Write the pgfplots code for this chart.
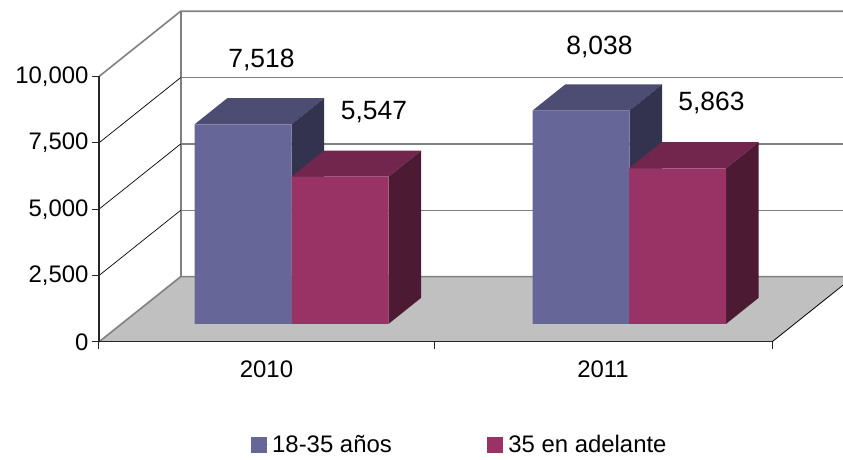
\documentclass[border=0pt]{standalone}
\usepackage{pgfplots}
\pgfplotsset{compat=1.18}
\usepackage{pgfplotstable}
\usepackage{fontspec}
\setmainfont{Liberation Sans}
\definecolor{bluefront}{HTML}{666699}
\definecolor{bluetop}{HTML}{4D4D73}
\definecolor{blueside}{HTML}{333350}
\definecolor{redfront}{HTML}{993366}
\definecolor{redtop}{HTML}{73264D}
\definecolor{redside}{HTML}{4D1A33}
\definecolor{floorgray}{HTML}{C0C0C0}
\definecolor{wallgray}{HTML}{808080}
\newcommand\chartfont{\fontsize{24}{28}\selectfont}
\newcommand\valfont{\fontsize{26.5}{30}\selectfont}
% x = horizontal position of the bar centre, v = value
\pgfplotstableread{
x v
243 7518
581 8038
}\young
\pgfplotstableread{
x v
340 5547
677.5 5863
}\older
\newcommand\barfaces[4]{%
  \pgfplotstablegetelem{#2}{x}\of#1\pgfmathsetmacro\bx{\pgfplotsretval}%
  \pgfplotstablegetelem{#2}{v}\of#1\pgfmathsetmacro\bv{\pgfplotsretval}%
  \pgfmathsetmacro\bxl{\bx-48.5}%
  \pgfmathsetmacro\bxr{\bx+48.5}%
  \pgfmathsetmacro\bxlb{\bxl+32.7}%
  \pgfmathsetmacro\bxrb{\bxr+32.7}%
  \pgfmathsetmacro\bvb{\bv+984}%
  \addplot[fill=#3,draw=none,forget plot] coordinates {(\bxl,\bv) (\bxr,\bv) (\bxrb,\bvb) (\bxlb,\bvb)} -- cycle;
  \addplot[fill=#4,draw=none,forget plot] coordinates {(\bxr,0) (\bxrb,984) (\bxrb,\bvb) (\bxr,\bv)} -- cycle;
}
\pgfplotsset{sqlegend/.style={legend image code/.code={\fill[##1] (0bp,-7.8bp) rectangle (15.7bp,7.8bp); \path (0bp,0bp) -- (19bp,0bp);}}}
\begin{document}
\begin{tikzpicture}
\begin{axis}[
  x=1bp, y=0.02655bp,
  xmin=99, xmax=772, ymin=-678, ymax=9322,
  axis on top,
  clip=false,
  axis x line*=bottom, axis y line*=left,
  axis line style={black!85, line width=1.2bp},
  tick align=outside,
  major tick length=7bp,
  tick style={black!85, line width=1bp},
  ytick={-678,1822,4322,6822,9322},
  yticklabels={0,{2,500},{5,000},{7,500},{10,000}},
  xtick={99,434,772}, xticklabels={},
  extra x ticks={266.5,603}, extra x tick labels={2010,2011},
  extra x tick style={major tick length=0bp, tick style={draw=none},
    xticklabel style={yshift=-15bp}},
  tick label style={font=\chartfont},
  /pgf/number format/.cd, 1000 sep={,}, assume math mode=true, /pgfplots/.cd,
  legend style={draw=none, fill=none, at={(axis cs:251,-4560)}, anchor=west,
    legend columns=2, font=\chartfont, inner sep=0pt, nodes={inner ysep=0pt},
    /tikz/every even column/.append style={column sep=93.5bp}},
  legend cell align=left,
]
% floor
\addplot[fill=floorgray, draw=none, forget plot] coordinates {(99,-678) (180.7,1781) (843,1781) (843,1459) (772,-678)} -- cycle;
\addplot[black, line width=0.8bp, forget plot] coordinates {(772,-678) (843,1459)};
% walls
\addplot[wallgray, line width=1.6bp, forget plot] coordinates {(99,-678) (180.7,1781) (843,1781)};
\addplot[wallgray, line width=1.6bp, forget plot] coordinates {(180.7,1781) (180.7,11781)};
\addplot[wallgray, line width=1.6bp, forget plot] coordinates {(99,9322) (180.7,11781) (843,11781)};
% gridlines
\addplot[black, line width=0.7bp, forget plot] coordinates {(99,1822) (180.7,4281)};
\addplot[black, line width=0.7bp, forget plot] coordinates {(99,4322) (180.7,6781)};
\addplot[black, line width=0.7bp, forget plot] coordinates {(99,6822) (180.7,9281)};
\addplot[wallgray, line width=1.3bp, forget plot] coordinates {(180.7,4281) (843,4281)};
\addplot[wallgray, line width=1.3bp, forget plot] coordinates {(180.7,6781) (843,6781)};
\addplot[wallgray, line width=1.3bp, forget plot] coordinates {(180.7,9281) (843,9281)};
% bars: 18-35
\barfaces{\young}{0}{bluetop}{blueside}
\barfaces{\young}{1}{bluetop}{blueside}
\addplot[ybar, bar width=97, bar shift=0pt, fill=bluefront, draw=none, sqlegend,
  nodes near coords={\pgfmathprintnumber{\pgfplotspointmeta}},
  every node near coord/.append style={font=\valfont, anchor=center, xshift=18.5bp, yshift=64bp}]
  table[x=x, y=v] {\young};
\addlegendentry{18-35 años}
% bars: 35+
\barfaces{\older}{0}{redtop}{redside}
\barfaces{\older}{1}{redtop}{redside}
\addplot[ybar, bar width=97, bar shift=0pt, fill=redfront, draw=none, sqlegend,
  nodes near coords={\pgfmathprintnumber{\pgfplotspointmeta}},
  every node near coord/.append style={font=\valfont, anchor=center, xshift=34bp, yshift=65bp}]
  table[x=x, y=v] {\older};
\addlegendentry{35 en adelante}
\coordinate (bbSW) at (axis cs:0,-5122.4);
\coordinate (bbNE) at (axis cs:843,12203.4);
\end{axis}
\pgfresetboundingbox
\useasboundingbox (bbSW) rectangle (bbNE);
\end{tikzpicture}
\end{document}
